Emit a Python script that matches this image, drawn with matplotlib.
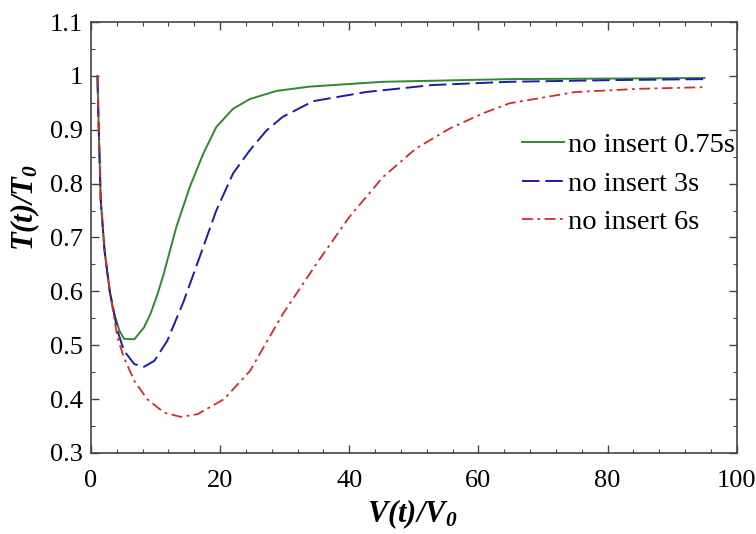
import matplotlib.pyplot as plt
from matplotlib.ticker import MultipleLocator, FormatStrFormatter

plt.rcParams['font.family'] = ['Liberation Serif', 'DejaVu Serif']
plt.rcParams['mathtext.fontset'] = 'custom'
plt.rcParams['mathtext.rm'] = 'Liberation Serif'
plt.rcParams['mathtext.it'] = 'Liberation Serif:italic'
plt.rcParams['mathtext.bf'] = 'Liberation Serif:bold:italic'

# temperature ratio vs volume ratio, no insert, three fill times
x_075 = [1.0, 1.1, 1.5, 2.1, 2.9, 3.6, 4.4, 5.1, 6.7, 8.2, 9.2, 10.3, 11.2, 13.2,
         15.3, 17.4, 19.4, 22.0, 24.6, 28.7, 33.8, 45.2, 64.8, 80.0, 95.0]
t_075 = [1.0, 0.945, 0.77, 0.675, 0.60, 0.558, 0.527, 0.512, 0.511, 0.533, 0.558,
         0.595, 0.630, 0.719, 0.794, 0.856, 0.905, 0.939, 0.957, 0.972, 0.980, 0.989,
         0.994, 0.995, 0.996]

x_3 = [1.0, 1.1, 1.5, 2.1, 2.9, 4.1, 5.1, 6.7, 8.2, 9.8, 11.8, 14.3, 16.8, 19.4,
       22.0, 24.6, 27.2, 29.7, 34.4, 42.6, 52.9, 64.8, 80.0, 95.0]
t_3 = [1.0, 0.945, 0.77, 0.675, 0.60, 0.527, 0.49, 0.465, 0.46, 0.471, 0.508, 0.58,
       0.663, 0.75, 0.819, 0.862, 0.899, 0.924, 0.953, 0.970, 0.983, 0.989, 0.992, 0.994]

x_6 = [1.0, 1.1, 1.5, 2.1, 2.9, 4.1, 5.1, 6.7, 8.7, 11.3, 13.9, 16.5, 20.6, 24.6,
       29.7, 34.9, 40.0, 45.2, 50.3, 55.5, 60.6, 64.8, 75.0, 85.0, 95.0]
t_6 = [1.0, 0.945, 0.77, 0.675, 0.60, 0.514, 0.477, 0.434, 0.40, 0.375, 0.367, 0.372,
       0.40, 0.452, 0.558, 0.651, 0.738, 0.812, 0.865, 0.902, 0.930, 0.949, 0.970,
       0.976, 0.979]

labels = ['no insert 0.75s', 'no insert 3s', 'no insert 6s']

fig = plt.figure(figsize=(7.56, 5.34), dpi=100)
ax = fig.add_axes([0.1204, 0.1517, 0.854, 0.8071])

ax.plot(x_075, t_075, color='#2f8a2f', lw=1.4, label=labels[0])
ax.plot(x_3, t_3, color='#1c1ca8', lw=1.4, dashes=(9, 3), label=labels[1])
ax.plot(x_6, t_6, color='#d42a2a', lw=1.3, dashes=(6, 2.5, 1.5, 2.5), label=labels[2])

ax.set_xlim(0, 100)
ax.set_ylim(0.3, 1.1)
ax.xaxis.set_major_locator(MultipleLocator(20))
ax.xaxis.set_minor_locator(MultipleLocator(4))
ax.yaxis.set_major_locator(MultipleLocator(0.1))
ax.yaxis.set_minor_locator(MultipleLocator(0.05))
ax.yaxis.set_major_formatter(FormatStrFormatter('%g'))
ax.tick_params(which='both', direction='in', top=True, right=True,
               labelsize=19, color='#444444')
ax.tick_params(which='major', length=6, width=1)
ax.tick_params(which='minor', length=3, width=0.8)
ax.tick_params(axis='x', pad=12)
ax.tick_params(axis='y', pad=6)
for s in ax.spines.values():
    s.set_color('#444444')
    s.set_linewidth(1.2)

ax.set_xlabel(r'$\mathbf{V(t)/V_0}$', fontsize=22)
ax.set_ylabel(r'$\mathbf{T(t)/T_0}$', fontsize=22)
ax.xaxis.set_label_coords(0.497, -0.102)
ax.yaxis.set_label_coords(-0.076, 0.57)

ax.legend(loc='upper left', bbox_to_anchor=(0.690, 0.753), bbox_transform=fig.transFigure,
          frameon=False, fontsize=20.5, handlelength=1.5, handletextpad=0.12,
          labelspacing=0.45, borderpad=0, borderaxespad=0)

fig.savefig('out.png', dpi=100)
